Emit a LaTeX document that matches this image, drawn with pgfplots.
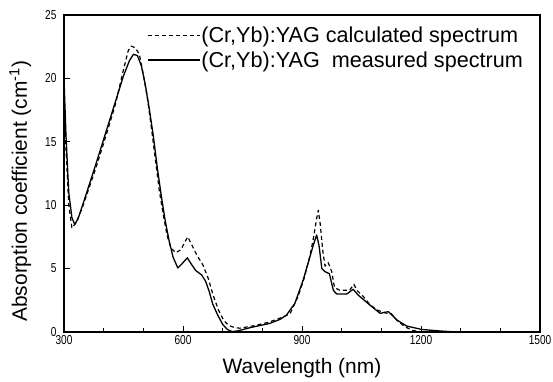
\documentclass[border=0pt]{standalone}
\usepackage{fontspec}
\setmainfont{Liberation Sans}
\newfontfamily\tickfont[FakeStretch=0.78]{Liberation Sans}
\usepackage{pgfplots}
\pgfplotsset{compat=1.18}
\begin{document}
\begin{tikzpicture}
\begin{axis}[
  scale only axis, width=476bp, height=317bp,
  xmin=300, xmax=1500, ymin=0, ymax=25,
  xtick={300,600,900,1200,1500},
  minor xtick={400,500,700,800,1000,1100,1300,1400},
  ytick={0,5,10,15,20,25},
  tick align=inside, xtick pos=bottom, ytick pos=left,
  major tick length=6bp, minor tick length=4bp,
  axis line style={line width=1.1bp},
  every tick/.style={line width=0.9bp, black},
  /pgf/number format/assume math mode=true,
  /pgf/number format/1000 sep={},
  ticklabel style={font=\tickfont\fontsize{13}{13}\selectfont},
  yticklabel style={xshift=-4bp},
  xlabel={Wavelength (nm)},
  ylabel={Absorption coefficient (cm\textsuperscript{-1})},
  xlabel style={at={(axis description cs:0.5,-0.115)}, anchor=center, font=\fontsize{21}{25}\selectfont},
  ylabel style={at={(axis description cs:-0.092,0.444)}, anchor=center, font=\fontsize{21}{25}\selectfont},
  legend style={draw=none, fill=none, at={(axis description cs:0.174,0.965)}, anchor=north west,
    font=\fontsize{21.7}{25}\selectfont, inner sep=0pt, row sep=5bp,
    nodes={inner sep=1bp}},
  legend cell align=left,
  legend image code/.code={\draw[#1] (0bp,0bp) -- (52bp,0bp);},
]
\addplot[black, line width=1.2bp, dash pattern=on 4bp off 3bp, line join=round] coordinates {
(300,19.0) (305,14.5) (312,10.0) (320,8.2) (330,8.6) (345,9.7) (380,12.9) (410,15.9)
(430,18.0) (450,20.7) (462,22.2) (470,22.55) (480,22.4) (490,21.9) (500,20.3) (510,18.5)
(520,16.2) (530,13.7) (540,11.2) (550,9.3) (560,7.6) (570,6.6) (582,6.25) (595,6.5)
(603,7.0) (612,7.5) (620,7.0) (636,6.0) (650,5.3) (664,4.2) (675,3.0) (689,1.76)
(703,0.9) (716,0.5) (730,0.35) (743,0.3) (780,0.5) (814,0.75) (850,1.15) (870,1.45)
(890,2.8) (905,4.2) (920,6.0) (930,7.6) (936,8.8) (941,9.6) (946,8.5) (952,6.5)
(958,5.2) (966,5.47) (975,4.76) (982,3.5) (995,3.3) (1020,3.3) (1031,3.76) (1038,3.3)
(1055,2.78) (1070,2.2) (1088,1.75) (1110,1.5) (1125,1.45) (1140,0.9) (1160,0.4)
(1180,0.12) (1200,0.02) (1220,0.0)
};
\addlegendentry{(Cr,Yb):YAG calculated spectrum}
\addplot[black, line width=1.3bp, line join=round] coordinates {
(300,20.0) (305,15.5) (312,11.0) (320,9.0) (327,8.5) (335,8.9) (350,10.3) (380,13.2)
(410,16.2) (430,18.2) (450,20.2) (465,21.4) (475,21.9) (485,21.8) (495,21.0) (505,19.5)
(515,17.6) (525,15.5) (535,13.0) (545,10.8) (555,8.8) (565,7.2) (575,5.9) (587,5.05)
(598,5.4) (611,5.85) (620,5.4) (632,4.85) (647,4.5) (657,4.0) (666,3.2) (675,2.2)
(688,1.3) (700,0.6) (712,0.2) (724,0.03) (740,0.1) (770,0.35) (819,0.68) (845,1.0)
(861,1.34) (882,2.26) (903,4.1) (920,5.94) (930,7.0) (937,7.65) (943,6.8) (950,5.0)
(958,4.76) (969,4.6) (979,3.3) (987,3.0) (1013,3.0) (1029,3.37) (1042,2.9) (1071,2.13)
(1097,1.47) (1108,1.55) (1118,1.6) (1128,1.3) (1139,0.95) (1164,0.47) (1202,0.2)
(1248,0.08) (1290,0.0)
};
\addlegendentry{(Cr,Yb):YAG\ \ measured spectrum}
\end{axis}
\pgfresetboundingbox
\path ([xshift=-64bp,yshift=-50bp]current axis.south west) rectangle ([xshift=13bp,yshift=15bp]current axis.north east);
\end{tikzpicture}
\end{document}
